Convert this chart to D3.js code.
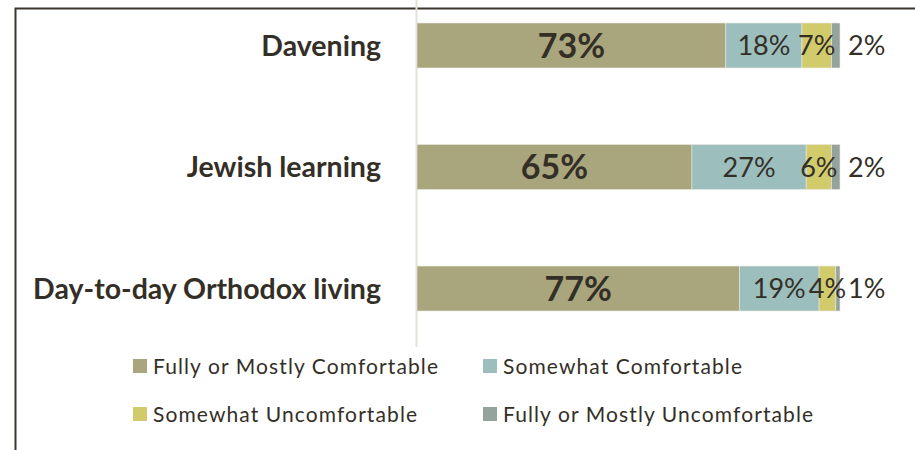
<!DOCTYPE html>
<html><head><meta charset="utf-8">
<script src="https://cdn.jsdelivr.net/npm/d3@7"></script>
<style>body{margin:0;background:#fff}svg{display:block}</style>
</head><body><svg id="c" width="915" height="450"></svg>
<script>
const categories = ["Davening", "Jewish learning", "Day-to-day Orthodox living"];
const seriesNames = ["Fully or Mostly Comfortable", "Somewhat Comfortable", "Somewhat Uncomfortable", "Fully or Mostly Uncomfortable"];
const fullyComfortable = [73, 65, 77];
const somewhatComfortable = [18, 27, 19];
const somewhatUncomfortable = [7, 6, 4];
const fullyUncomfortable = [2, 2, 1];
const colors = ["#a9a57c", "#9cbebd", "#d2cb6c", "#95a39d"];

const font = "Lato, 'Open Sans', sans-serif";
const ink = "#332f27";
const svg = d3.select("#c");

const rows = categories.map((c, i) => ({
  cat: c,
  s0: fullyComfortable[i], s1: somewhatComfortable[i], s2: somewhatUncomfortable[i], s3: fullyUncomfortable[i]
}));
const keys = ["s0", "s1", "s2", "s3"];
const stacked = d3.stack().keys(keys).offset(d3.stackOffsetExpand)(rows);

const x = d3.scaleLinear().domain([0, 1]).range([417, 840]);
const y = d3.scaleBand().domain(categories).range([23, 311]).paddingInner(0.63).paddingOuter(0);

// frame
svg.append("path").attr("d", "M15.5,460 V8.5 H920").attr("fill", "none").attr("stroke", "#3a362e").attr("stroke-width", 2);

// axis line
svg.append("line").attr("x1", 416.5).attr("x2", 416.5).attr("y1", 0).attr("y2", 347)
  .attr("stroke", "#e4e1d9").attr("stroke-width", 2);

// bars
const g = svg.append("g");
stacked.forEach((layer, li) => {
  g.selectAll(null).data(layer).enter().append("rect")
    .attr("x", d => x(d[0])).attr("width", d => x(d[1]) - x(d[0]))
    .attr("y", d => y(d.data.cat)).attr("height", y.bandwidth())
    .attr("fill", colors[li]).attr("stroke", "#e9e7e0").attr("stroke-width", 0.6);
});

// labels
stacked.forEach((layer, li) => {
  g.selectAll(null).data(layer).enter().append("text")
    .attr("x", d => li === 3 ? x(d[1]) + 8 : (x(d[0]) + x(d[1])) / 2)
    .attr("y", d => y(d.data.cat) + y.bandwidth() / 2)
    .attr("dy", "0.36em")
    .attr("text-anchor", li === 3 ? "start" : "middle")
    .attr("font-family", font)
    .attr("font-size", li === 0 ? 34 : 27)
    .attr("font-weight", li === 0 ? 700 : 400)
    .attr("fill", ink)
    .text(d => d.data[keys[li]] + "%");
});

// category axis
const yAxis = d3.axisLeft(y).tickSize(0).tickPadding(0);
const ag = svg.append("g").attr("transform", "translate(381,0)").call(yAxis);
ag.select(".domain").remove();
ag.selectAll("text").attr("font-family", font).attr("font-size", 28.5).attr("font-weight", 700)
  .attr("fill", ink).attr("dy", "0.36em");

// legend
const legPos = [[133, 366], [483, 366], [133, 414], [483, 414]];
seriesNames.forEach((n, i) => {
  const lg = svg.append("g").attr("transform", `translate(${legPos[i][0]},${legPos[i][1]})`);
  lg.append("rect").attr("x", 0).attr("y", -7).attr("width", 14).attr("height", 14).attr("fill", colors[i]);
  lg.append("text").attr("x", 20).attr("y", 0).attr("dy", "0.36em").attr("font-family", font)
    .attr("font-size", 21).attr("letter-spacing", 1.1).attr("fill", ink).text(n);
});
</script></body></html>
